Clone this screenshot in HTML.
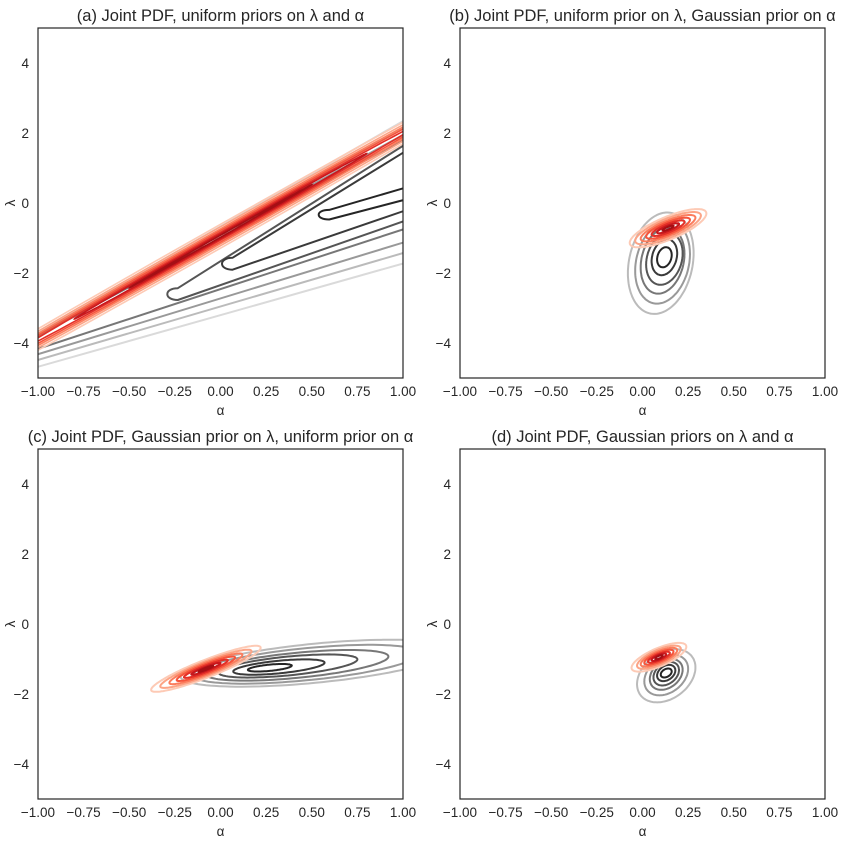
<!DOCTYPE html>
<html><head><meta charset="utf-8"><style>
body{margin:0;background:#fff;}
svg{font-family:"Liberation Sans","DejaVu Sans",sans-serif;}
</style></head><body>
<svg id="fig" width="852" height="841" viewBox="0 0 852 841" xmlns="http://www.w3.org/2000/svg"></svg>
<script>
const xTicks=[-1,-0.75,-0.5,-0.25,0,0.25,0.5,0.75,1];
const xTickLabels=["−1.00","−0.75","−0.50","−0.25","0.00","0.25","0.50","0.75","1.00"];
const yTicks=[-4,-2,0,2,4];
const yTickLabels=["−4","−2","0","2","4"];
const titles=["(a) Joint PDF, uniform priors on λ and α","(b) Joint PDF, uniform prior on λ, Gaussian prior on α","(c) Joint PDF, Gaussian prior on λ, uniform prior on α","(d) Joint PDF, Gaussian priors on λ and α"];
// Panel (a) gray ridge contours: tip point, upper/lower lambda at right edge
const ridgeTipA=[0.53,0.0,-0.3,-1.12,-1.25,-1.35,-1.5];
const ridgeTipL=[-0.43,-1.9,-2.77,-4.25,-4.6,-4.9,-5.3];
const ridgeUpR=[0.45,1.5,1.7,1.85,2.0,2.2,2.4];
const ridgeLoR=[0.11,-0.2,-0.49,-0.72,-1.1,-1.4,-1.7];
// ellipse families
const grayCA=[[],[0.12,0.12,0.12,0.11,0.11,0.1],[0.27,0.32,0.37,0.42,0.47,0.52],[0.13,0.13,0.13,0.13,0.13,0.13]];
const grayCL=[[],[-1.55,-1.55,-1.6,-1.65,-1.7,-1.72],[-1.25,-1.23,-1.2,-1.18,-1.15,-1.12],[-1.4,-1.4,-1.42,-1.44,-1.46,-1.48]];
const graySlope=[0,1.6,0.5,1.5];
const grayA=[[],[0.04,0.07,0.1,0.12,0.15,0.18],[0.12,0.25,0.38,0.5,0.62,0.74],[0.03,0.05,0.07,0.09,0.12,0.16]];
const grayB=[[],[0.28,0.5,0.72,0.92,1.15,1.42],[0.09,0.18,0.27,0.36,0.46,0.56],[0.12,0.22,0.32,0.42,0.55,0.72]];
const redCA=[[0.0,0.0,0.0,0.0,0.0,0.0,0.0],[0.14,0.14,0.14,0.14,0.14,0.14,0.14],[-0.08,-0.08,-0.08,-0.08,-0.08,-0.08,-0.08],[0.09,0.09,0.09,0.09,0.09,0.09,0.09]];
const redCL=[[-0.95,-0.95,-0.95,-0.95,-0.95,-0.95,-0.95],[-0.72,-0.72,-0.72,-0.72,-0.72,-0.72,-0.72],[-1.28,-1.28,-1.28,-1.28,-1.28,-1.28,-1.28],[-0.95,-0.95,-0.95,-0.95,-0.95,-0.95,-0.95]];
const redSlope=[2.95,2.0,2.0,2.0];
const redA=[[0.5,0.8,1.1,1.4,1.7,2.0,2.3],[0.03,0.06,0.09,0.12,0.15,0.18,0.21],[0.04,0.08,0.12,0.16,0.2,0.25,0.3],[0.02,0.04,0.06,0.08,0.1,0.12,0.15]];
const redB=[[0.03,0.07,0.11,0.16,0.21,0.27,0.34],[0.04,0.08,0.13,0.18,0.23,0.29,0.35],[0.03,0.06,0.1,0.14,0.18,0.22,0.27],[0.04,0.07,0.1,0.14,0.18,0.23,0.28]];
const panels=[[38,28],[460,28],[38,449],[460,449]];
const PW=365,PH=350;
const NS="http://www.w3.org/2000/svg";
const svg=document.getElementById('fig');
function mk(t,a,p){const e=document.createElementNS(NS,t);for(const k in a)e.setAttribute(k,a[k]);(p||svg).appendChild(e);return e;}
const greys=["#252525","#3a3a3a","#555","#777","#999","#bbb","#dadada"];
const reds=["#a50f15","#c8171c","#e32f27","#f6553c","#fb7d5d","#fca486","#fdcab5"];
function family(g,cx,cy,CA,CL,s,A,B,cols,w){
  for(let i=A.length-1;i>=0;i--){
    let d="";
    for(let k=0;k<=120;k++){const t=k/120*2*Math.PI;
      const a=CA[i]+A[i]*Math.cos(t), l=CL[i]+A[i]*s*Math.cos(t)+B[i]*Math.sin(t);
      d+=(k?"L":"M")+cx(a).toFixed(1)+" "+cy(l).toFixed(1);}
    const p=mk('path',{d:d+"Z",fill:"none",stroke:cols[Math.min(i,cols.length-1)],'stroke-width':w||2},g);
    
    
  }
}
function ridges(g,cx,cy){
  for(let i=ridgeTipA.length-1;i>=0;i--){
    const tx=cx(ridgeTipA[i]),ty=cy(ridgeTipL[i]);
    const ux=cx(1.02),uy=cy(ridgeUpR[i]),lx=cx(1.02),ly=cy(ridgeLoR[i]);
    const su=(uy-ty)/(ux-tx), sl=(ly-ty)/(lx-tx);
    const ax=tx+12, ayU=ty-4+su*12, ayL=ty+4+sl*12;
    const d=`M${ux} ${uy.toFixed(1)} L${ax.toFixed(1)} ${ayU.toFixed(1)} C${(tx-2).toFixed(1)} ${(ayU).toFixed(1)} ${(tx-2).toFixed(1)} ${(ayL).toFixed(1)} ${ax.toFixed(1)} ${ayL.toFixed(1)} L${lx} ${ly.toFixed(1)}`;
    const p=mk('path',{d:d,fill:"none",stroke:greys[i],'stroke-width':2,'stroke-linejoin':'round'},g);
    
    
  }
}
panels.forEach((pp,pi)=>{
  const [x0,y0]=pp;
  const cx=a=>x0+(a+1)/2*PW, cy=l=>y0+(5-l)/10*PH;
  const g=mk('g',{});
  
  
  const cid='clip'+pi;
  const cp=mk('clipPath',{id:cid},g);mk('rect',{x:x0,y:y0,width:PW,height:PH},cp);
  const cg=mk('g',{'clip-path':'url(#'+cid+')'},g);
  if(pi===0) ridges(cg,cx,cy); else family(cg,cx,cy,grayCA[pi],grayCL[pi],graySlope[pi],grayA[pi],grayB[pi],greys);
  family(cg,cx,cy,redCA[pi],redCL[pi],redSlope[pi],redA[pi],redB[pi],reds,pi===0?1.6:2);
  const fr=mk('rect',{x:x0,y:y0,width:PW,height:PH,fill:'none',stroke:'#262626','stroke-width':1.2},g);
  
  xTicks.forEach((v,i)=>{const t=mk('text',{x:cx(v),y:y0+PH+18,'text-anchor':'middle','font-size':13.5,fill:'#262626'},g);t.textContent=xTickLabels[i];
    });
  yTicks.forEach((v,i)=>{const t=mk('text',{x:x0-9,y:cy(v)+5,'text-anchor':'end','font-size':13.5,fill:'#262626'},g);t.textContent=yTickLabels[i];
    });
  const xl=mk('text',{x:x0+PW/2,y:y0+PH+37,'text-anchor':'middle','font-size':13.5,fill:'#262626'},g);xl.textContent='α';
  
  const yl=mk('text',{x:x0-23,y:y0+PH/2,'text-anchor':'middle','font-size':13.5,fill:'#262626',transform:`rotate(-90 ${x0-23} ${y0+PH/2})`},g);yl.textContent='λ';
  
  const tt=mk('text',{x:x0+PW/2,y:y0-7,'text-anchor':'middle','font-size':16.5,fill:'#262626'},g);tt.textContent=titles[pi];
  
});
</script>
</body></html>
